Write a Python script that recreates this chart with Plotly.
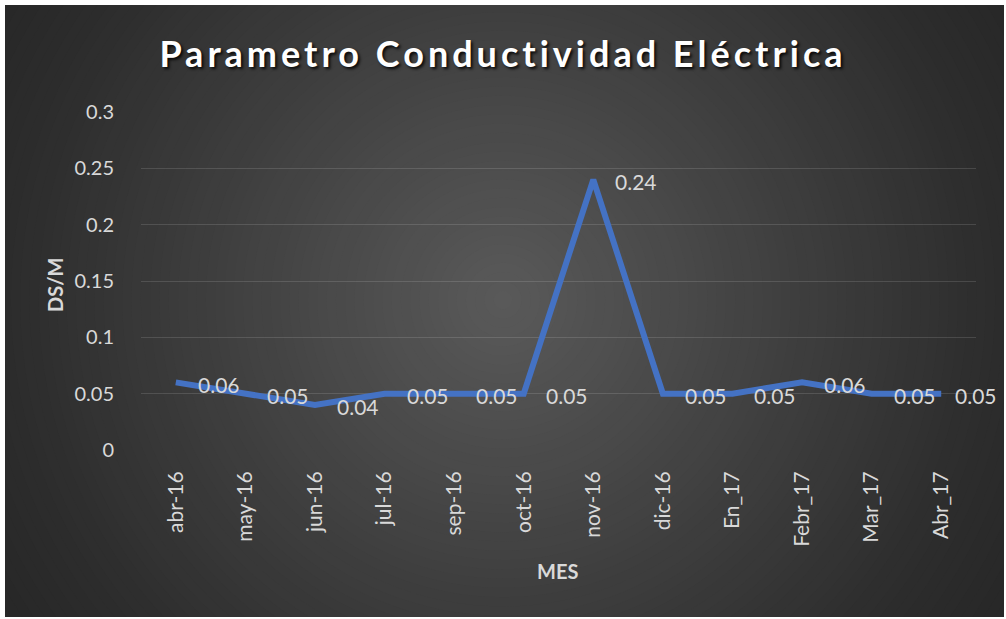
import plotly.graph_objects as go

meses = ["abr-16", "may-16", "jun-16", "jul-16", "sep-16", "oct-16", "nov-16",
         "dic-16", "En_17", "Febr_17", "Mar_17", "Abr_17"]
valores = [0.06, 0.05, 0.04, 0.05, 0.05, 0.05, 0.24, 0.05, 0.05, 0.06, 0.05, 0.05]
y_ticks = [0, 0.05, 0.1, 0.15, 0.2, 0.25, 0.3]
y_tick_text = ["0", "0.05", "0.1", "0.15", "0.2", "0.25", "0.3"]

W, H = 1006, 619
L, R, T, B = 141, 976, 112, 450

def xp(px):
    return (px - L) / (R - L)

def yp(py):
    return (B - py) / (B - T)

fig = go.Figure()
fig.add_trace(go.Scatter(
    x=meses, y=valores, mode="lines",
    line=dict(color="#4472C4", width=6),
    hoverinfo="skip", showlegend=False,
))

shapes = []
# radial gradient background
stops = [(0, 0x5a), (300, 0x3e), (500, 0x2c), (650, 0x25)]
def col(r):
    for (r0, c0), (r1, c1) in zip(stops[:-1], stops[1:]):
        if r <= r1:
            t = (r - r0) / (r1 - r0)
            v = int(round(c0 + (c1 - c0) * t))
            return f"rgb({v},{v},{v})"
    v = stops[-1][1]
    return f"rgb({v},{v},{v})"

cx, cy = 503, 300
N = 70
for i in range(N):
    r = 650 * (1 - i / N)
    shapes.append(dict(
        type="circle", xref="paper", yref="paper",
        xsizemode="pixel", ysizemode="pixel",
        xanchor=xp(cx), yanchor=yp(cy),
        x0=-r, x1=r, y0=-r, y1=r,
        fillcolor=col(r), line=dict(width=0), layer="below",
    ))

# white frame
for (a, b, c, d) in [(0, 0, W, 5), (0, 0, 5, H), (1004, 0, W, H), (0, 617, W, H)]:
    shapes.append(dict(
        type="rect", xref="paper", yref="paper",
        x0=xp(a), x1=xp(c), y0=yp(b), y1=yp(d),
        fillcolor="white", line=dict(width=0), layer="above",
    ))

annotations = []
n = len(meses)
for i, (m, v) in enumerate(zip(meses, valores)):
    annotations.append(dict(
        x=m, y=v, xref="x", yref="y", text=f"{v:.2f}",
        showarrow=False, xanchor="left", yanchor="middle",
        xshift=12 if i == n - 1 else 20, yshift=-2,
        font=dict(family="Lato", size=21, color="#d9d9d9"),
    ))
annotations.append(dict(
    x=xp(55), y=yp(285), xref="paper", yref="paper", text="<b>DS/M</b>",
    textangle=-90, showarrow=False, xanchor="center", yanchor="middle",
    font=dict(family="Lato", size=20, color="#d9d9d9"),
))
annotations.append(dict(
    x=xp(557), y=yp(571), xref="paper", yref="paper", text="<b>MES</b>",
    showarrow=False, xanchor="center", yanchor="middle",
    font=dict(family="Lato", size=20, color="#d9d9d9"),
))

fig.update_layout(
    width=W, height=H,
    margin=dict(l=L, r=W - R, t=T, b=H - B, pad=0),
    paper_bgcolor="white", plot_bgcolor="rgba(0,0,0,0)",
    title=dict(
        text="<b><span style='letter-spacing:4px'>Parametro Conductividad Eléctrica</span></b>",
        x=0.5, xanchor="center", y=1 - 54 / H, yanchor="middle",
        font=dict(family="Lato", size=36, color="white",
                  shadow="2px 2px 3px rgba(0,0,0,0.85)"),
    ),
    xaxis=dict(
        type="category", tickangle=-90, showgrid=False, zeroline=False,
        showline=False, ticks="outside", ticklen=12, tickcolor="rgba(0,0,0,0)",
        tickfont=dict(family="Lato", size=21, color="#d9d9d9"),
        range=[-0.5, len(meses) - 0.5],
    ),
    yaxis=dict(
        range=[0, 0.3], tickvals=y_ticks, ticktext=y_tick_text,
        showgrid=True, gridcolor="rgba(255,255,255,0.13)", gridwidth=1,
        zeroline=False, showline=False,
        ticks="outside", ticklen=22, tickcolor="rgba(0,0,0,0)",
        tickfont=dict(family="Lato", size=20, color="#d9d9d9"),
    ),
    shapes=shapes, annotations=annotations,
)

fig.write_html("out.html", config={"displayModeBar": False},
               post_script="document.body.style.margin='0';")
